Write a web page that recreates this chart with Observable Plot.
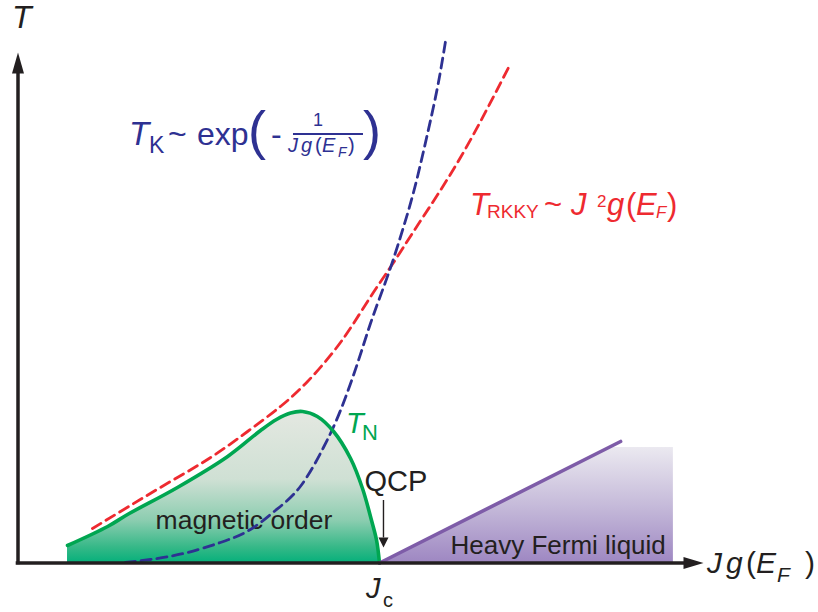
<!DOCTYPE html>
<html>
<head>
<meta charset="utf-8">
<script src="https://cdn.jsdelivr.net/npm/d3@7"></script>
<script src="https://cdn.jsdelivr.net/npm/@observablehq/plot@0.6"></script>
<style>
  html, body { margin: 0; padding: 0; background: #fff; }
  #chart svg { display: block; }
</style>
</head>
<body>
<div id="chart"></div>
<script>
// Doniach phase diagram: coupling J g(E_F) (units of J_c) against temperature (arbitrary units)

// RKKY scale, T_RKKY ~ J^2 g(E_F)
const rkkyJ = [0.206, 0.311, 0.422, 0.533, 0.635, 0.726, 0.801, 0.873, 0.928, 0.983, 1.039, 1.105, 1.224, 1.357];
const rkkyT = [0.345, 0.575, 0.815, 1.055, 1.315, 1.565, 1.815, 2.115, 2.395, 2.705, 3.005, 3.375, 4.055, 4.955];

// Kondo scale, T_K ~ exp(-1 / J g(E_F))
const kondoJ = [0.297, 0.367, 0.458, 0.560, 0.643, 0.712, 0.781, 0.845, 0.892, 0.939, 0.975, 1.011, 1.039, 1.066, 1.094, 1.119, 1.141, 1.163, 1.183];
const kondoT = [0.005, 0.035, 0.095, 0.205, 0.335, 0.525, 0.765, 1.155, 1.525, 1.995, 2.395, 2.755, 3.045, 3.355, 3.705, 4.075, 4.425, 4.805, 5.225];

// Neel temperature T_N bounding the magnetically ordered phase
const neelJ = [0.137, 0.248, 0.303, 0.441, 0.580, 0.671, 0.715, 0.754, 0.787, 0.828, 0.873, 0.920, 0.953, 0.978, 0.992, 1.000];
const neelT = [0.175, 0.365, 0.485, 0.755, 1.065, 1.325, 1.435, 1.500, 1.515, 1.465, 1.315, 1.045, 0.745, 0.425, 0.225, 0.000];

// Heavy Fermi liquid crossover line and its shaded region
const fermiLineJ = [1.000, 1.667];
const fermiLineT = [0.000, 1.215];
const fermiAreaJ = [1.000, 1.634, 1.813];
const fermiAreaT = [0.000, 1.155, 1.155];

// Critical coupling and labels
const criticalJ = 1.0;
const phaseLabels = ["magnetic order", "Heavy Fermi liquid"];
const pointLabel = "QCP";

const toRows = (xs, ys) => xs.map((x, i) => ({J: x, T: ys[i]}));
const rkky = toRows(rkkyJ, rkkyT);
const kondo = toRows(kondoJ, kondoT);
const neel = toRows(neelJ, neelT);
const fermiLine = toRows(fermiLineJ, fermiLineT);
const fermiArea = toRows(fermiAreaJ, fermiAreaT);

const FONT = "'Liberation Sans', Arial, Helvetica, sans-serif";
const INK = "#231f20";
const RED = "#ee2a30";
const BLUE = "#2e3192";
const GREEN = "#00a651";
const PURPLE = "#7e5ca8";

// Filled arrowhead symbols: tip direction (dx, dy), half-width as a fraction of half-length
function arrowHead(dx, dy, spread) {
  return {
    draw(ctx, size) {
      const r = Math.sqrt(size / Math.PI);
      const px = -dy, py = dx;
      ctx.moveTo(dx * r, dy * r);
      ctx.lineTo(-dx * r + px * spread * r, -dy * r + py * spread * r);
      ctx.lineTo(-dx * r - px * spread * r, -dy * r - py * spread * r);
      ctx.closePath();
    }
  };
}

// Gradient definitions for the two shaded phases
function gradients() {
  const defs = d3.create("svg:defs");
  const g1 = defs.append("linearGradient").attr("id", "neelFill").attr("x1", 0).attr("y1", 0).attr("x2", 0).attr("y2", 1);
  [[0, "#e4e8e1"], [0.45, "#cfe0d4"], [0.72, "#8ccdb0"], [0.9, "#35b887"], [1, "#06b07b"]]
    .forEach(([o, c]) => g1.append("stop").attr("offset", o).attr("stop-color", c));
  const g2 = defs.append("linearGradient").attr("id", "fermiFill").attr("x1", 0).attr("y1", 0).attr("x2", 0).attr("y2", 1);
  [[0, "#ebe9f0"], [0.5, "#c6bbda"], [1, "#9e87c2"]]
    .forEach(([o, c]) => g2.append("stop").attr("offset", o).attr("stop-color", c));
  return defs.node();
}

// Text made of several pieces (sub/superscripts), anchored at a data point, offsets in pixels
function richText(anchor, color, pieces, rules = []) {
  return (index, scales) => {
    const ax = scales.x(anchor[0]);
    const ay = scales.y(anchor[1]);
    const g = d3.create("svg:g")
      .attr("fill", color)
      .attr("font-family", FONT)
      .attr("text-anchor", "start");
    for (const p of pieces) {
      g.append("text")
        .attr("x", ax + p.dx)
        .attr("y", ay + p.dy)
        .attr("font-size", p.size)
        .attr("font-style", p.italic ? "italic" : null)
        .text(p.t);
    }
    for (const r of rules) {
      g.append("line")
        .attr("x1", ax + r.x1).attr("x2", ax + r.x2)
        .attr("y1", ay + r.y).attr("y2", ay + r.y)
        .attr("stroke", color).attr("stroke-width", r.w);
    }
    return g.node();
  };
}

const plot = Plot.plot({
  width: 818,
  height: 612,
  margin: 0,
  style: {background: "#ffffff", overflow: "visible"},
  x: {type: "linear", domain: [0, 2.2], range: [17.5, 812.8], axis: null},
  y: {type: "linear", domain: [0, 5.625], range: [562.5, 0], axis: null},
  marks: [
    gradients,

    // shaded phases
    Plot.areaY(neel, {x: "J", y: "T", curve: "catmull-rom", fill: "url(#neelFill)"}),
    Plot.areaY(fermiArea, {x: "J", y: "T", fill: "url(#fermiFill)"}),

    // phase names
    Plot.text([phaseLabels[0]], {x: 0.625, y: 0.345, text: d => d, textAnchor: "middle", lineAnchor: "bottom",
      fontSize: 26.5, fontFamily: FONT, fill: INK}),
    Plot.text([phaseLabels[1]], {x: 1.1964, y: 0.095, text: d => d, textAnchor: "start", lineAnchor: "bottom",
      fontSize: 26, fontFamily: FONT, fill: INK}),

    // energy scales
    Plot.line(rkky, {x: "J", y: "T", curve: "natural", stroke: RED, strokeWidth: 2.8, strokeDasharray: "10,6"}),
    Plot.line(kondo, {x: "J", y: "T", curve: "natural", stroke: BLUE, strokeWidth: 2.8, strokeDasharray: "10,6"}),

    // phase boundaries
    Plot.line(neel, {x: "J", y: "T", curve: "catmull-rom", stroke: GREEN, strokeWidth: 3.6}),
    Plot.line(fermiLine, {x: "J", y: "T", stroke: PURPLE, strokeWidth: 3.6}),

    // axes with arrowheads
    Plot.ruleY([0], {x1: -0.005, x2: 1.85, stroke: INK, strokeWidth: 3.5}),
    Plot.ruleX([0], {y1: -0.018, y2: 5.0, stroke: INK, strokeWidth: 3.5}),
    Plot.dot([0], {x: 1.8686, y: 0, r: 10, symbol: arrowHead(1, 0, 0.6), fill: INK, stroke: "none"}),
    Plot.dot([0], {x: 0, y: 5.0, r: 10.5, symbol: arrowHead(0, -1, 0.57), fill: INK, stroke: "none"}),

    // quantum critical point marker
    Plot.text([pointLabel], {x: 0.9585, y: 0.725, text: d => d, textAnchor: "start", lineAnchor: "bottom",
      fontSize: 29, fontFamily: FONT, fill: INK}),
    Plot.ruleX([criticalJ + 0.011], {y1: 0.625, y2: 0.25, stroke: INK, strokeWidth: 1.4}),
    Plot.dot([0], {x: criticalJ + 0.011, y: 0.205, r: 5, symbol: arrowHead(0, 1, 1.0), fill: INK, stroke: "none"}),

    // T_K ~ exp(- 1 / J g(E_F))
    richText([0.3084, 4.175], BLUE, [
      {t: "T", dx: 0, dy: 0, size: 33, italic: true},
      {t: "K", dx: 20, dy: 8, size: 23},
      {t: "~", dx: 39, dy: 0, size: 32},
      {t: "exp", dx: 68, dy: 0, size: 32},
      {t: "(", dx: 119, dy: 4, size: 54},
      {t: "-", dx: 142, dy: 0, size: 32},
      {t: "1", dx: 184, dy: -19, size: 18},
      {t: "J", dx: 159, dy: 7, size: 20, italic: true},
      {t: "g", dx: 172, dy: 7, size: 20, italic: true},
      {t: "(", dx: 186, dy: 7, size: 20},
      {t: "E", dx: 193, dy: 7, size: 20, italic: true},
      {t: "F", dx: 209, dy: 12, size: 14, italic: true},
      {t: ")", dx: 219, dy: 7, size: 20},
      {t: ")", dx: 234, dy: 4, size: 54}
    ], [{x1: 164, x2: 234, y: -11, w: 1.8}]),

    // T_RKKY ~ J^2 g(E_F)
    richText([1.2517, 3.475], RED, [
      {t: "T", dx: 0, dy: 0, size: 31, italic: true},
      {t: "RKKY", dx: 17, dy: 3, size: 19},
      {t: "~", dx: 74, dy: 0, size: 31},
      {t: "J", dx: 101, dy: 0, size: 31, italic: true},
      {t: "2", dx: 127, dy: -8, size: 17},
      {t: "g", dx: 137, dy: 0, size: 31, italic: true},
      {t: "(", dx: 156, dy: 0, size: 31},
      {t: "E", dx: 166, dy: 0, size: 31, italic: true},
      {t: "F", dx: 186, dy: 3, size: 17, italic: true},
      {t: ")", dx: 197, dy: 0, size: 31}
    ]),

    // T_N
    richText([0.9087, 1.295], GREEN, [
      {t: "T", dx: 0, dy: 0, size: 29, italic: true},
      {t: "N", dx: 16, dy: 7, size: 22}
    ]),

    // J_c below the axis
    richText([0.964, -0.355], INK, [
      {t: "J", dx: 0, dy: 0, size: 29, italic: true},
      {t: "c", dx: 17, dy: 9, size: 20}
    ]),

    // axis titles
    richText([-0.0235, 5.345], INK, [
      {t: "T", dx: 3, dy: 0, size: 32, italic: true}
    ]),
    richText([1.9073, -0.105], INK, [
      {t: "J", dx: 0, dy: 0, size: 30, italic: true},
      {t: "g", dx: 19, dy: 0, size: 30, italic: true},
      {t: "(", dx: 39, dy: 0, size: 30},
      {t: "E", dx: 49, dy: 0, size: 30, italic: true},
      {t: "F", dx: 70, dy: 9, size: 21, italic: true},
      {t: ")", dx: 98, dy: 0, size: 30}
    ])
  ]
});

document.getElementById("chart").appendChild(plot);
</script>
</body>
</html>
